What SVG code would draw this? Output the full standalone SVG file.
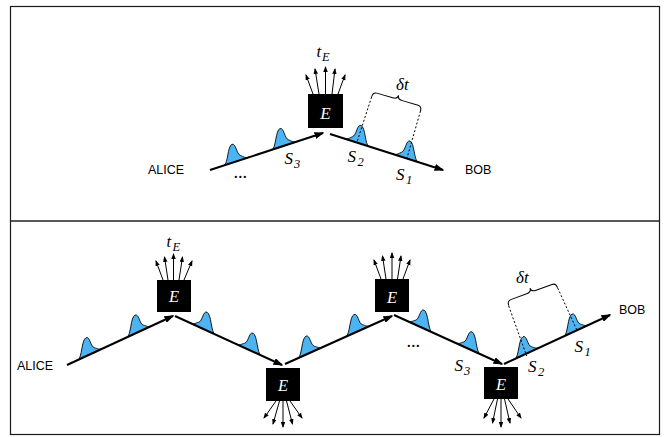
<svg xmlns="http://www.w3.org/2000/svg" width="665" height="437" viewBox="0 0 665 437">
<style>
.frame{fill:none;stroke:#1a1a1a;stroke-width:1.2}
.div{stroke:#222;stroke-width:1.6}
.box{fill:#000}
.etext{font-family:'Liberation Serif','DejaVu Serif','Times New Roman',serif;font-style:italic;fill:#fff;text-anchor:middle}
.it{font-family:'Liberation Serif','DejaVu Serif','Times New Roman',serif;font-style:italic;fill:#000}
.lbl{font-family:'Liberation Sans',Arial,sans-serif;font-size:12.5px;fill:#000}
.main{stroke:#000;stroke-width:2;fill:none;marker-end:url(#ah)}
.fan line{stroke:#000;stroke-width:1;marker-end:url(#sah)}
.pulse{fill:#4cb4f2;stroke:#000;stroke-width:0.8}
.dot{stroke:#000;stroke-width:1;stroke-dasharray:2 2;fill:none}
.brace{stroke:#000;stroke-width:1;fill:none}
</style>
<defs>
<marker id="ah" markerUnits="userSpaceOnUse" markerWidth="10" markerHeight="7" refX="8.5" refY="3.5" orient="auto"><path d="M0,0 L10,3.5 L0,7 Z" fill="#000"/></marker>
<marker id="sah" markerUnits="userSpaceOnUse" markerWidth="6" markerHeight="5" refX="5" refY="2.25" orient="auto"><path d="M0,0 L6,2.25 L0,4.5 Z" fill="#000"/></marker>
<path id="pa" d="M-8,0 C-4,0 -4.5,-18.5 0,-18.5 C4,-18.5 4.5,-7 8.5,-4.5 C11.5,-2.5 13,0 17,0 Z"/>
<path id="pd" d="M8,0 C4,0 4.5,-18.5 0,-18.5 C-4,-18.5 -4.5,-7 -8.5,-4.5 C-11.5,-2.5 -13,0 -17,0 Z"/>
</defs>

<rect class="frame" x="10.5" y="6.5" width="649" height="428"/>
<line class="div" x1="10.5" y1="221" x2="659.5" y2="221"/>

<g id="pulses">
<use href="#pa" class="pulse" transform="matrix(1,-0.3274,0,1,232,162.8)"/>
<use href="#pa" class="pulse" transform="matrix(1,-0.3274,0,1,280,147.1)"/>
<use href="#pd" class="pulse" transform="matrix(1,0.3186,0,1,361,143.9)"/>
<use href="#pd" class="pulse" transform="matrix(1,0.3186,0,1,410,159.5)"/>
<use href="#pa" class="pulse" transform="matrix(1,-0.4623,0,1,86,356.2)"/>
<use href="#pa" class="pulse" transform="matrix(1,-0.4623,0,1,135,333.6)"/>
<use href="#pd" class="pulse" transform="matrix(1,0.458,0,1,207,330.7)"/>
<use href="#pd" class="pulse" transform="matrix(1,0.458,0,1,253,351.7)"/>
<use href="#pa" class="pulse" transform="matrix(1,-0.4486,0,1,306,354.6)"/>
<use href="#pa" class="pulse" transform="matrix(1,-0.4486,0,1,354,333.0)"/>
<use href="#pd" class="pulse" transform="matrix(1,0.4537,0,1,424,328.6)"/>
<use href="#pd" class="pulse" transform="matrix(1,0.4537,0,1,472,350.4)"/>
<use href="#pa" class="pulse" transform="matrix(1,-0.4623,0,1,523,355.2)"/>
<use href="#pa" class="pulse" transform="matrix(1,-0.4623,0,1,572,332.6)"/>
</g>

<g id="connectors">
<line class="main" x1="210" y1="170" x2="323" y2="133"/>
<line class="main" x1="330" y1="134" x2="443" y2="170"/>
<line class="main" x1="67" y1="365" x2="173" y2="316"/>
<line class="main" x1="175" y1="316" x2="282" y2="365"/>
<line class="main" x1="285" y1="364" x2="392" y2="316"/>
<line class="main" x1="394" y1="315" x2="502" y2="364"/>
<line class="main" x1="504" y1="364" x2="610" y2="315"/>
</g>

<g id="delta-top">
<path class="brace" transform="translate(373,92) rotate(16.4)" d="M0,5 C0,1.5 1,0 4,0 L20.5,0 C23.5,0 25.5,-1 25.5,-4 C25.5,-1 27.5,0 30.5,0 L47,0 C50,0 51,1.5 51,5"/>
<line class="dot" x1="371.6" y1="97" x2="357" y2="142"/>
<line class="dot" x1="420.5" y1="111" x2="407" y2="158"/>
<text class="it" x="396" y="90" font-size="17">δt</text>
</g>
<g id="delta-bottom">
<path class="brace" transform="translate(507,301) rotate(-20.2)" d="M0,5 C0,1.5 1,0 4,0 L21,0 C24,0 26,-1 26,-4 C26,-1 28,0 31,0 L48,0 C51,0 52,1.5 52,5"/>
<line class="dot" x1="508.7" y1="306" x2="526.7" y2="356"/>
<line class="dot" x1="557.7" y1="288" x2="577.3" y2="331"/>
<text class="it" x="516" y="283" font-size="17">δt</text>
</g>

<g id="eve-top">
<rect class="box" x="308" y="94" width="35" height="34"/>
<text class="etext" x="325.5" y="119" font-size="17">E</text>
<g class="fan">
<line x1="313" y1="94" x2="306" y2="75"/>
<line x1="319" y1="94" x2="315" y2="69"/>
<line x1="325.5" y1="94" x2="325.5" y2="67"/>
<line x1="332" y1="94" x2="335" y2="69"/>
<line x1="338" y1="94" x2="345" y2="75"/>
</g>
<text class="it" x="316.5" y="57" font-size="17">t<tspan x="322" y="60.5" font-size="12.5">E</tspan></text>
</g>
<g id="alice-top"><text class="lbl" x="148" y="174">ALICE</text></g>
<g id="bob-top"><text class="lbl" x="465" y="174">BOB</text></g>
<g id="labels-top">
<text class="it" x="234" y="178" font-size="18">...</text>
<text class="it" x="284.5" y="164" font-size="17">S<tspan x="294" y="168" font-size="12.5">3</tspan></text>
<text class="it" x="347.5" y="161.5" font-size="17">S<tspan x="357.5" y="165.5" font-size="12.5">2</tspan></text>
<text class="it" x="396" y="180" font-size="17">S<tspan x="406" y="184" font-size="12.5">1</tspan></text>
</g>

<g id="eve-1">
<rect class="box" x="157" y="280" width="34" height="32"/>
<text class="etext" x="174" y="301.5" font-size="16.5">E</text>
<g class="fan">
<line x1="163" y1="280" x2="156" y2="261"/>
<line x1="168" y1="280" x2="164.5" y2="257"/>
<line x1="173.5" y1="280" x2="173.5" y2="254"/>
<line x1="179" y1="280" x2="182.5" y2="257"/>
<line x1="184" y1="280" x2="192" y2="261"/>
</g>
<text class="it" x="166.5" y="247" font-size="16.5">t<tspan x="172.5" y="251" font-size="12.5">E</tspan></text>
</g>
<g id="eve-2">
<rect class="box" x="266" y="368" width="34" height="33"/>
<text class="etext" x="283" y="390.5" font-size="16.5">E</text>
<g class="fan">
<line x1="276" y1="401" x2="264" y2="418"/>
<line x1="279.5" y1="401" x2="273" y2="424"/>
<line x1="283" y1="401" x2="283" y2="427"/>
<line x1="286.5" y1="401" x2="292.5" y2="424"/>
<line x1="290" y1="401" x2="302" y2="418"/>
</g>
</g>
<g id="eve-3">
<rect class="box" x="375" y="279" width="34" height="33"/>
<text class="etext" x="392" y="303" font-size="16.5">E</text>
<g class="fan">
<line x1="381" y1="279" x2="374" y2="260"/>
<line x1="386" y1="279" x2="382.5" y2="256"/>
<line x1="392" y1="279" x2="392" y2="253"/>
<line x1="397.5" y1="279" x2="401" y2="256"/>
<line x1="403" y1="279" x2="410" y2="260"/>
</g>
</g>
<g id="eve-4">
<rect class="box" x="484" y="367" width="34" height="32"/>
<text class="etext" x="501" y="390" font-size="16.5">E</text>
<g class="fan">
<line x1="494" y1="399" x2="484" y2="418"/>
<line x1="497.5" y1="399" x2="492.5" y2="423"/>
<line x1="501" y1="399" x2="501" y2="427"/>
<line x1="504.5" y1="399" x2="510" y2="423"/>
<line x1="508" y1="399" x2="521" y2="418"/>
</g>
</g>
<g id="alice-bottom"><text class="lbl" x="17" y="370">ALICE</text></g>
<g id="bob-bottom"><text class="lbl" x="619" y="314">BOB</text></g>
<g id="labels-bottom">
<text class="it" x="407" y="347" font-size="18">...</text>
<text class="it" x="454.5" y="370.5" font-size="17">S<tspan x="464" y="374.5" font-size="12.5">3</tspan></text>
<text class="it" x="528" y="371.5" font-size="17">S<tspan x="538" y="375.5" font-size="12.5">2</tspan></text>
<text class="it" x="574.5" y="351.5" font-size="17">S<tspan x="584.5" y="355.5" font-size="12.5">1</tspan></text>
</g>
</svg>
